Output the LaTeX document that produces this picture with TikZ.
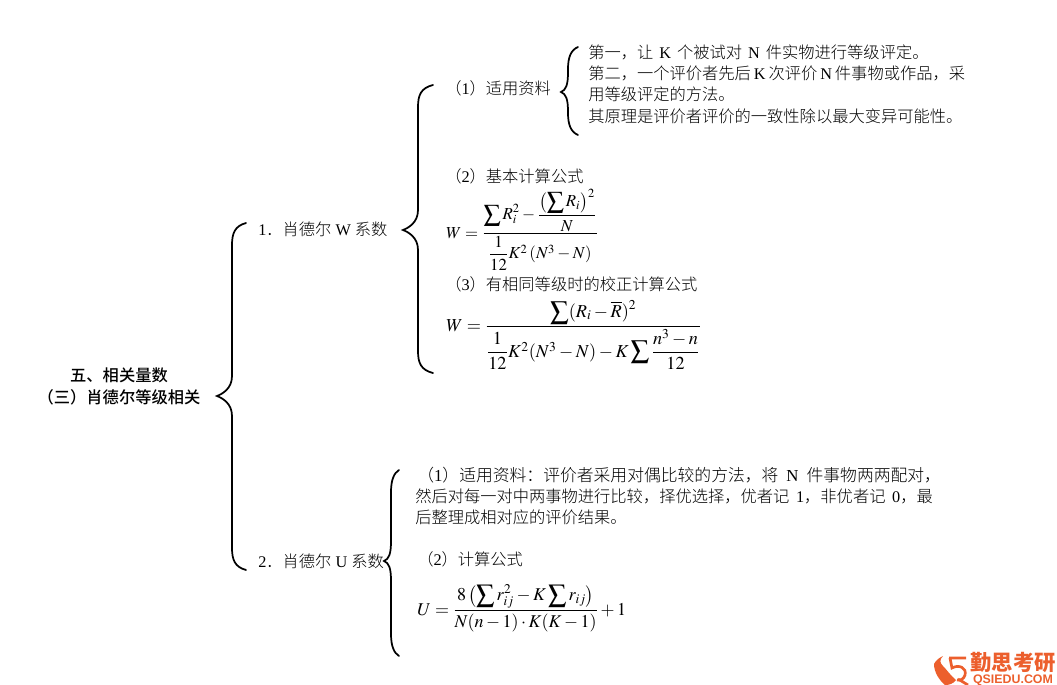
\documentclass[tikz,border=0pt]{standalone}
\usepackage{amsmath, mathptmx}
\usepackage[no-math]{fontspec}
\setmainfont{Liberation Serif}
\newfontfamily\cjk{Noto Sans CJK SC Light}
\newfontfamily\cjkhead{Noto Sans CJK SC Medium}
\newfontfamily\cjklogo{Noto Sans CJK SC}
\newfontfamily\logofont{Liberation Sans}
\newcommand{\zh}[1]{{\cjk #1}}
\definecolor{logoorange}{HTML}{EC5F2D}
\tikzset{
    txt/.style = {anchor = west, inner sep = 0pt, align = left, font = \fontsize{12.2}{16}\selectfont},
    formula/.style = {anchor = base west, inner sep = 0pt},
    curly/.style = {line width = 1.3pt, line cap = round}
}
% tip x, spine x, end x, top y, tip y, bottom y
\newcommand{\curlybrace}[6]{
    \draw[curly] (#3, #4) .. controls (#2 + 3, #4 + 3) and (#2, #4 + 10) .. (#2, #4 + 22)
        -- (#2, #5 - 20) .. controls (#2, #5 - 7) and (#1 + 5, #5 - 2) .. (#1, #5)
        .. controls (#1 + 5, #5 + 2) and (#2, #5 + 7) .. (#2, #5 + 20)
        -- (#2, #6 - 22) .. controls (#2, #6 - 10) and (#2 + 3, #6 - 3) .. (#3, #6);
}
\begin{document}
\begin{tikzpicture}[x = 0.75pt, y = -0.75pt]
    \useasboundingbox (0, 0) rectangle (1057, 685);

    \curlybrace{217}{232}{246}{223}{396}{570}
    \curlybrace{403}{418}{433}{85}{230}{373}
    \curlybrace{561}{568}{578}{47}{92}{135}
    \curlybrace{384}{391}{399}{470}{561}{656}

    \node (title) at (119, 386.5) [txt, anchor = center, align = center, font = \fontsize{12.2}{16}\selectfont\cjkhead] {五、相关量数\\（三）肖德尔等级相关};
    \node (wcoef) at (258, 229) [txt] {1\zh{．肖德尔} W \zh{系数}};
    \node (ucoef) at (258, 561) [txt] {2\zh{．肖德尔} U \zh{系数}};

    \node (wdata) at (445, 88) [txt] {\zh{（}1\zh{）适用资料}};
    \node (wdatatext) at (588, 84) [txt] {\zh{第一，让}\hspace{4.5pt}K\hspace{4.5pt}\zh{个被试对}\hspace{4.5pt}N\hspace{4.5pt}\zh{件实物进行等级评定。}\\
        \zh{第二，一个评价者先后}\hspace{2.2pt}K\hspace{2.2pt}\zh{次评价}\hspace{2.2pt}N\hspace{2.2pt}\zh{件事物或作品，采}\\
        \zh{用等级评定的方法。}\\
        \zh{其原理是评价者评价的一致性除以最大变异可能性。}};
    \node (wbasic) at (445, 176) [txt] {\zh{（}2\zh{）基本计算公式}};
    \node (wbasicf) at (446, 238) [formula, font = \fontsize{12.6}{15}\selectfont] {$W=\dfrac{\displaystyle\sum R_i^2-\dfrac{\left(\displaystyle\sum R_i\right)^2}{N}}{\dfrac{1}{12}K^2\left(N^3-N\right)}$};
    \node (wtied) at (445, 284) [txt] {\zh{（}3\zh{）有相同等级时的校正计算公式}};
    \node (wtiedf) at (446, 331) [formula, font = \fontsize{13.7}{16}\selectfont] {$W=\dfrac{\displaystyle\sum(R_i-\overline{R})^2}{\dfrac{1}{12}K^2(N^3-N)-K\displaystyle\sum\dfrac{n^3-n}{12}}$};

    \node (udata) at (415, 496) [txt] {{\fontsize{12.6}{16}\selectfont\hspace*{1.5pt}\zh{（}1\zh{）适用资料：评价者采用对偶比较的方法，将}\hspace{6pt}N\hspace{6pt}\zh{件事物两两配对，}}\\
        \zh{然后对每一对中两事物进行比较，择优选择，优者记}\hspace{5pt}1\zh{，非优者记}\hspace{5pt}0\zh{，最}\\
        \zh{后整理成相对应的评价结果。}};
    \node (ucalc) at (417, 559) [txt] {\zh{（}2\zh{）计算公式}};
    \node (ucalcf) at (417, 615) [formula, font = \fontsize{13.5}{16}\selectfont] {$U=\dfrac{8\left(\displaystyle\sum r_{ij}^2-K\displaystyle\sum r_{ij}\right)}{N(n-1)\cdot K(K-1)}+1$};

    % logo
    \fill[logoorange] (943, 656) .. controls (939, 660) and (940, 663) .. (943, 666)
        .. controls (947, 670) and (951, 676) .. (956, 680) .. controls (953, 684) and (949, 685) .. (945, 685)
        .. controls (939, 680) and (934, 672) .. (934, 664) .. controls (936, 660) and (939, 658) .. (943, 656) -- cycle;
    \draw[logoorange, line width = 2pt] (949, 658) -- (966, 658)
        (950, 658) -- (952, 668) .. controls (959, 664) and (967, 668) .. (965, 675)
        .. controls (964, 679) and (960, 681) .. (957, 680) (958, 679) -- (968, 685);
    \node (logocn) at (1013, 662.5) [inner sep = 0pt, text = logoorange, font = \fontsize{16}{16}\selectfont\cjklogo\bfseries] {勤思考研};
    \node (logoen) at (1013, 680) [inner sep = 0pt, text = logoorange, font = \fontsize{9.3}{10}\selectfont\logofont\bfseries] {QSIEDU.COM};
\end{tikzpicture}
\end{document}
